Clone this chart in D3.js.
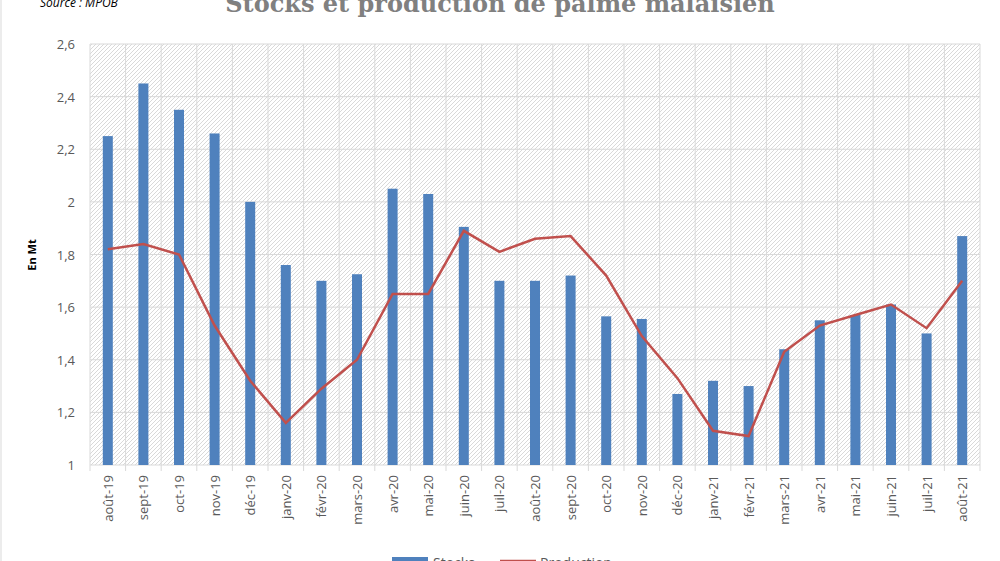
<!DOCTYPE html>
<html><head><meta charset="utf-8">
<script src="https://cdn.jsdelivr.net/npm/d3@7"></script>
<style>body{margin:0;background:#fff}svg{display:block}</style>
</head><body><div id="chart"></div>
<script>
// Données
const mois = ["août-19","sept-19","oct-19","nov-19","déc-19","janv-20","févr-20","mars-20","avr-20","mai-20","juin-20","juil-20","août-20","sept-20","oct-20","nov-20","déc-20","janv-21","févr-21","mars-21","avr-21","mai-21","juin-21","juil-21","août-21"];
const stocks = [2.25,2.45,2.35,2.26,2.0,1.76,1.70,1.725,2.05,2.03,1.905,1.70,1.70,1.72,1.565,1.555,1.27,1.32,1.30,1.44,1.55,1.57,1.61,1.50,1.87];
const production = [1.82,1.84,1.80,1.53,1.32,1.16,1.29,1.40,1.65,1.65,1.89,1.81,1.86,1.87,1.72,1.49,1.33,1.13,1.11,1.43,1.53,1.57,1.61,1.52,1.70];
const ticksY = [1,1.2,1.4,1.6,1.8,2,2.2,2.4,2.6];

const W = 1000, H = 561;
const m = {gauche: 90, droite: 980, haut: 44, bas: 465};

const svg = d3.select("#chart").append("svg").attr("width", W).attr("height", H);

// Motif hachuré du fond
const defs = svg.append("defs");
defs.append("pattern").attr("id","hach").attr("patternUnits","userSpaceOnUse")
  .attr("width",4).attr("height",4)
  .append("path").attr("d","M-1,1 l2,-2 M0,4 l4,-4 M3,5 l2,-2")
  .attr("stroke","#cfcfcf").attr("stroke-width",0.8);

svg.append("line").attr("x1",1).attr("x2",1).attr("y1",0).attr("y2",H).attr("stroke","#d9d9d9");

const x = d3.scaleBand().domain(mois).range([m.gauche, m.droite]);
const y = d3.scaleLinear().domain([1, 2.6]).range([m.bas, m.haut]);

svg.append("rect").attr("x",m.gauche).attr("y",m.haut)
  .attr("width",m.droite-m.gauche).attr("height",m.bas-m.haut).attr("fill","url(#hach)");

// Grille
svg.append("g").selectAll("line").data(ticksY).join("line")
  .attr("x1",m.gauche).attr("x2",m.droite)
  .attr("y1",d=>y(d)).attr("y2",d=>y(d)).attr("stroke","#d9d9d9").attr("stroke-width",1);
svg.append("g").selectAll("line").data(mois.concat(["fin"])).join("line")
  .attr("x1",(d,i)=>m.gauche+i*x.step()).attr("x2",(d,i)=>m.gauche+i*x.step())
  .attr("y1",m.haut).attr("y2",m.bas+6).attr("stroke","#d9d9d9");

// Axe Y
svg.append("g").selectAll("text").data(ticksY).join("text")
  .attr("x",75).attr("y",d=>y(d)+5).attr("text-anchor","end")
  .attr("font-family","Open Sans, sans-serif").attr("font-size",13).attr("fill","#595959")
  .text(d=>d3.format(".1f")(d).replace(".0","").replace(".",","));
svg.append("text").attr("transform","translate(36,255) rotate(-90)").attr("text-anchor","middle")
  .attr("font-family","Open Sans, sans-serif").attr("font-size",11).attr("font-weight","bold")
  .attr("fill","#000").text("En Mt");

// Axe X
svg.append("g").selectAll("text").data(mois).join("text")
  .attr("transform",d=>`translate(${x(d)+x.bandwidth()/2+5},${m.bas+10}) rotate(-90)`)
  .attr("text-anchor","end").attr("font-family","Open Sans, sans-serif").attr("font-size",13)
  .attr("fill","#595959").text(d=>d);

// Barres
svg.append("g").selectAll("rect").data(stocks).join("rect")
  .attr("x",(d,i)=>x(mois[i])+x.bandwidth()/2-5).attr("width",10)
  .attr("y",d=>y(d)).attr("height",d=>y(1)-y(d)).attr("fill","#4f81bd");

// Ligne production
svg.append("path").datum(production)
  .attr("d",d3.line().x((d,i)=>x(mois[i])+x.bandwidth()/2).y(d=>y(d)))
  .attr("fill","none").attr("stroke","#c0504d").attr("stroke-width",2.5);

// Titre et source
svg.append("text").attr("x",500).attr("y",12).attr("text-anchor","middle")
  .attr("font-family","DejaVu Serif, serif").attr("font-weight","bold").attr("font-size",24)
  .attr("fill","#808080").text("Stocks et production de palme malaisien");
svg.append("text").attr("x",40).attr("y",7).attr("font-family","Open Sans, sans-serif")
  .attr("font-style","italic").attr("font-size",12).text("Source : MPOB");

// Légende
svg.append("rect").attr("x",392).attr("y",557).attr("width",36).attr("height",8).attr("fill","#4f81bd");
svg.append("text").attr("x",433).attr("y",568).attr("font-family","Open Sans, sans-serif")
  .attr("font-size",14).attr("fill","#595959").text("Stocks");
svg.append("line").attr("x1",500).attr("x2",536).attr("y1",561).attr("y2",561).attr("stroke","#c0504d").attr("stroke-width",2.5);
svg.append("text").attr("x",540).attr("y",568).attr("font-family","Open Sans, sans-serif")
  .attr("font-size",14).attr("fill","#595959").text("Production");
</script></body></html>
